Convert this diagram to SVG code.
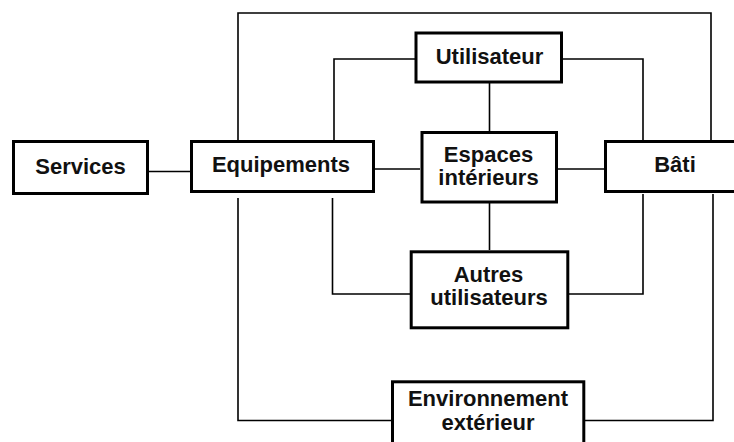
<svg xmlns="http://www.w3.org/2000/svg" width="734" height="442" viewBox="0 0 734 442">
<style>
.box{fill:#fff;stroke:#000;stroke-width:3}
.lbl{font-family:"Liberation Sans",Arial,Helvetica,sans-serif;font-weight:bold;font-size:22px;fill:#111;text-anchor:middle}
.con{fill:none;stroke:#000;stroke-width:1.6}
</style>
<rect width="734" height="442" fill="#fff"/>
<g id="connectors">
<line class="con" x1="149" y1="171.5" x2="190" y2="171.5"/>
<polyline class="con" points="238,140 238,13 711,13 711,140"/>
<polyline class="con" points="334,140 334,59 415,59"/>
<polyline class="con" points="563,59 643,59 643,140"/>
<line class="con" x1="489.5" y1="83" x2="489.5" y2="131"/>
<line class="con" x1="375" y1="169" x2="420" y2="169"/>
<line class="con" x1="558" y1="169" x2="604" y2="169"/>
<line class="con" x1="489.5" y1="203" x2="489.5" y2="250"/>
<polyline class="con" points="332.5,198 332.5,294 410,294"/>
<polyline class="con" points="569,294 643,294 643,194"/>
<polyline class="con" points="238,198 238,420.5 391,420.5"/>
<polyline class="con" points="585,420.5 713,420.5 713,194"/>
</g>
<g id="services">
<rect class="box" x="13.5" y="141.5" width="134" height="52"/>
<text class="lbl" x="80.5" y="174">Services</text>
</g>
<g id="equipements">
<rect class="box" x="191.5" y="141.5" width="182" height="50"/>
<text class="lbl" x="281" y="172">Equipements</text>
</g>
<g id="utilisateur">
<rect class="box" x="416" y="33" width="145.5" height="49"/>
<text class="lbl" x="489.5" y="63.5">Utilisateur</text>
</g>
<g id="espaces">
<rect class="box" x="422" y="132.5" width="134.5" height="69.5"/>
<text class="lbl" x="488.5" y="161.5">Espaces</text>
<text class="lbl" x="488.5" y="184.5">intérieurs</text>
</g>
<g id="bati">
<rect class="box" x="605.5" y="141.5" width="140" height="50"/>
<text class="lbl" x="675" y="172">Bâti</text>
</g>
<g id="autres">
<rect class="box" x="411.2" y="251.8" width="156.6" height="76"/>
<text class="lbl" x="488.5" y="282">Autres</text>
<text class="lbl" x="489" y="305">utilisateurs</text>
</g>
<g id="environnement">
<rect class="box" x="392.5" y="381.8" width="191.3" height="80"/>
<text class="lbl" x="488" y="406">Environnement</text>
<text class="lbl" x="488" y="430">extérieur</text>
</g>
</svg>
